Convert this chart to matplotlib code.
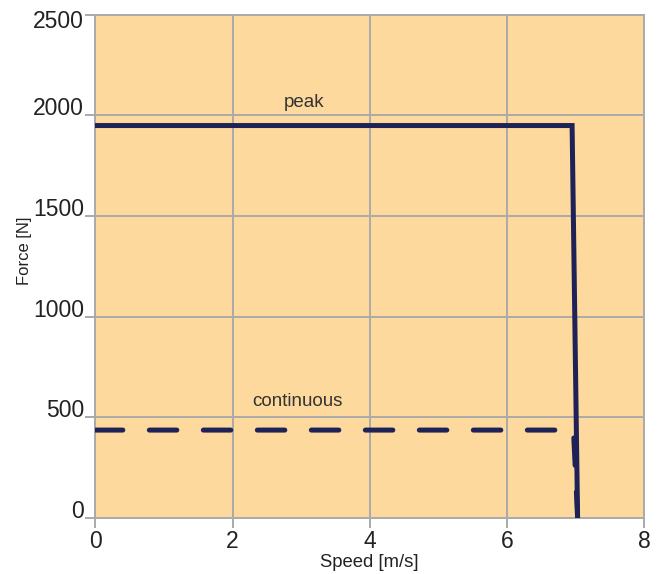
import matplotlib.pyplot as plt
import matplotlib.transforms as mtrans

# values
peak_speed = [0, 6.95, 7.03]
peak_force = [1950, 1950, 0]
cont_speed = [0, 6.97, 7.03]
cont_force = [435, 435, 0]
xticks = [0, 2, 4, 6, 8]
yticks = [0, 500, 1000, 1500, 2000, 2500]

plt.rcParams['font.family'] = ['Liberation Sans', 'DejaVu Sans']

line_col = '#1e2257'
grid_col = '#aaaaaa'

fig = plt.figure(figsize=(6.62, 5.74), dpi=100)
ax = fig.add_axes([0.144, 0.0984, 0.829, 0.8755])
ax.set_facecolor('#fdd99d')

ax.plot(peak_speed, peak_force, color=line_col, lw=3.6, solid_capstyle='round',
        solid_joinstyle='miter', zorder=3)
ax.plot(cont_speed, cont_force, color=line_col, lw=3.6, dashes=(5.5, 5.3),
        dash_capstyle='round', zorder=3)

ax.text(3.05, 2065, 'peak', fontsize=13.5, ha='center', va='center', color='#333333')
ax.text(2.95, 578, 'continuous', fontsize=13.5, ha='center', va='center', color='#333333')

ax.set_xlim(0, 8)
ax.set_ylim(0, 2500)
ax.set_xticks(xticks)
ax.set_yticks(yticks)
ax.grid(True, color=grid_col, lw=1.4, zorder=1)
ax.set_axisbelow(True)
for s in ax.spines.values():
    s.set_color(grid_col)
    s.set_linewidth(1.4)

ax.tick_params(axis='both', colors=grid_col, length=7, width=1.4, labelsize=16.5,
               labelcolor='#222222')
ax.tick_params(axis='y', pad=1)
ax.tick_params(axis='x', pad=2)
ylabels = ax.get_yticklabels()
for t in ylabels:
    t.set_va('baseline')
# top label is pushed down so it stays inside the figure
ylabels[-1].set_transform(ylabels[-1].get_transform() +
                          mtrans.ScaledTranslation(0, -13 / 100, fig.dpi_scale_trans))

ax.set_xlabel('Speed [m/s]', fontsize=13.3, color='#222222', labelpad=1)
ax.set_ylabel('Force [N]', fontsize=12, color='#222222', labelpad=4)
ax.yaxis.set_label_coords(-0.115, 0.53)

fig.savefig('out.png', dpi=100)
